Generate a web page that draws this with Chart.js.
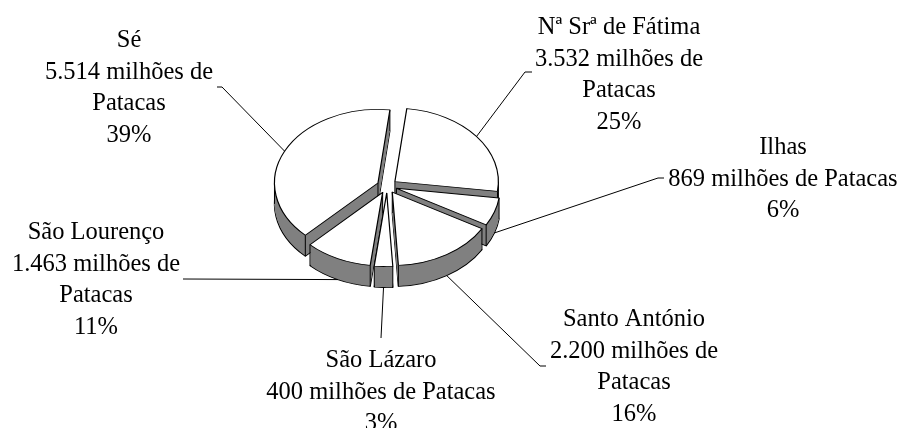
<!DOCTYPE html>
<html>
<head>
<meta charset="utf-8">
<style>
  html, body { margin: 0; padding: 0; background: #fff; }
  #wrap { width: 898px; height: 428px; }
</style>
<script src="https://cdn.jsdelivr.net/npm/chart.js@4"></script>
</head>
<body>
<div id="wrap"><canvas id="myChart" width="898" height="428"></canvas></div>
<script>
const categories = ['Nª Srª de Fátima', 'Ilhas', 'Santo António', 'São Lázaro', 'São Lourenço', 'Sé'];
const values = [3532, 869, 2200, 400, 1463, 5514];
const percents = ['25%', '6%', '16%', '3%', '11%', '39%'];
// how the "milhões" text wraps in each label
const valueLines = [
  ['3.532 milhões de', 'Patacas'],
  ['869 milhões de Patacas'],
  ['2.200 milhões de', 'Patacas'],
  ['400 milhões de Patacas'],
  ['1.463 milhões de', 'Patacas'],
  ['5.514 milhões de', 'Patacas']
];

const SQUASH = 0.71;
const DEPTH = 21;
const EXPLODE = 10;
const SIDE = '#808080';
const LINE_H = 31.6;

// label centre x, first baseline y, then the leader's outer elbow
const labelBoxes = [
  { x: 619, y: 34, elbow: [[525, 72], [532, 72]] },
  { x: 783, y: 154, elbow: [[658, 178], [664, 178]] },
  { x: 634, y: 326, elbow: [[540, 366], [546, 366]] },
  { x: 381, y: 367, elbow: [[381, 338]] },
  { x: 96, y: 239, elbow: [[183, 279]] },
  { x: 129, y: 47, elbow: [[222, 87], [217, 87]] }
];

function withOptions(arc, opts, fn) {
  const saved = arc.options;
  arc.options = Object.assign({
    borderAlign: 'center', borderJoinStyle: 'round', borderRadius: 0,
    offset: 0, spacing: 0, circular: true, borderDash: [], borderDashOffset: 0
  }, opts);
  fn();
  arc.options = saved;
}

// shift of a slice along its mid angle, on the unsquashed pie plane
function explodeOf(arc) {
  const mid = (arc.startAngle + arc.endAngle) / 2;
  return [Math.cos(mid) * EXPLODE, Math.sin(mid) * EXPLODE];
}

function rimPoint(arc, angle, dy) {
  const e = explodeOf(arc);
  return [
    arc.x + e[0] + Math.cos(angle) * arc.outerRadius,
    arc.y + (e[1] + Math.sin(angle) * arc.outerRadius) * SQUASH + dy
  ];
}

const pie3d = {
  id: 'pie3d',
  beforeDatasetDraw(chart, args) {
    const ctx = chart.ctx;
    const arcs = chart.getDatasetMeta(args.index).data.slice();
    const cy = arcs[0].y;
    const onPlane = (arc, dy, fn) => {
      const e = explodeOf(arc);
      ctx.save();
      ctx.translate(0, cy + dy);
      ctx.scale(1, SQUASH);
      ctx.translate(e[0], e[1] - cy);
      fn();
      ctx.restore();
    };
    // back slices first
    arcs.sort((a, b) => explodeOf(a)[1] - explodeOf(b)[1]);
    arcs.forEach(arc => {
      withOptions(arc, { backgroundColor: SIDE, borderColor: '#000', borderWidth: 1.2 }, () => {
        onPlane(arc, DEPTH, () => arc.draw(ctx));
      });
      withOptions(arc, { backgroundColor: SIDE, borderColor: SIDE, borderWidth: 0 }, () => {
        for (let d = DEPTH - 1; d > 0; d--) onPlane(arc, d, () => arc.draw(ctx));
      });
      // vertical edges
      const e = explodeOf(arc);
      const corners = [
        [arc.x + e[0], arc.y + e[1] * SQUASH],
        rimPoint(arc, arc.startAngle, 0),
        rimPoint(arc, arc.endAngle, 0)
      ];
      [0, Math.PI, Math.PI * 2, Math.PI * 3].forEach(a => {
        if (a > arc.startAngle && a < arc.endAngle) corners.push(rimPoint(arc, a, 0));
      });
      ctx.save();
      ctx.strokeStyle = '#000';
      ctx.lineWidth = 1;
      corners.forEach(p => {
        ctx.beginPath();
        ctx.moveTo(p[0], p[1]);
        ctx.lineTo(p[0], p[1] + DEPTH);
        ctx.stroke();
      });
      ctx.restore();
      withOptions(arc, { backgroundColor: '#fff', borderColor: '#000', borderWidth: 1.2 }, () => {
        onPlane(arc, 0, () => arc.draw(ctx));
      });
    });
    return false;
  },
  afterDraw(chart) {
    const ctx = chart.ctx;
    const arcs = chart.getDatasetMeta(0).data;
    ctx.save();
    ctx.strokeStyle = '#000';
    ctx.lineWidth = 1;
    arcs.forEach((arc, i) => {
      const mid = (arc.startAngle + arc.endAngle) / 2;
      // slices at the back get the leader on the top rim, the front ones on the lower rim
      const from = rimPoint(arc, mid, Math.sin(mid) > 0 ? DEPTH : 0);
      ctx.beginPath();
      ctx.moveTo(from[0], from[1]);
      labelBoxes[i].elbow.forEach(p => ctx.lineTo(p[0], p[1]));
      ctx.stroke();
    });
    ctx.fillStyle = '#000';
    ctx.font = '24.5px "Liberation Serif"';
    ctx.textAlign = 'center';
    ctx.textBaseline = 'alphabetic';
    categories.forEach((name, i) => {
      const lines = [name].concat(valueLines[i], percents[i]);
      lines.forEach((t, k) => ctx.fillText(t, labelBoxes[i].x, labelBoxes[i].y + k * LINE_H));
    });
    ctx.restore();
  }
};

const data = {
  labels: categories,
  datasets: [{ data: values }]
};

const config = {
  type: 'pie',
  data: data,
  plugins: [pie3d],
  options: {
    responsive: false,
    animation: false,
    rotation: 6.6,
    radius: 103.5,
    layout: { padding: { left: 0, top: 0, right: 124, bottom: 56 } },
    plugins: { legend: { display: false }, tooltip: { enabled: false } }
  }
};

const myChart = new Chart(document.querySelector('#myChart').getContext('2d'), config);
</script>
</body>
</html>
